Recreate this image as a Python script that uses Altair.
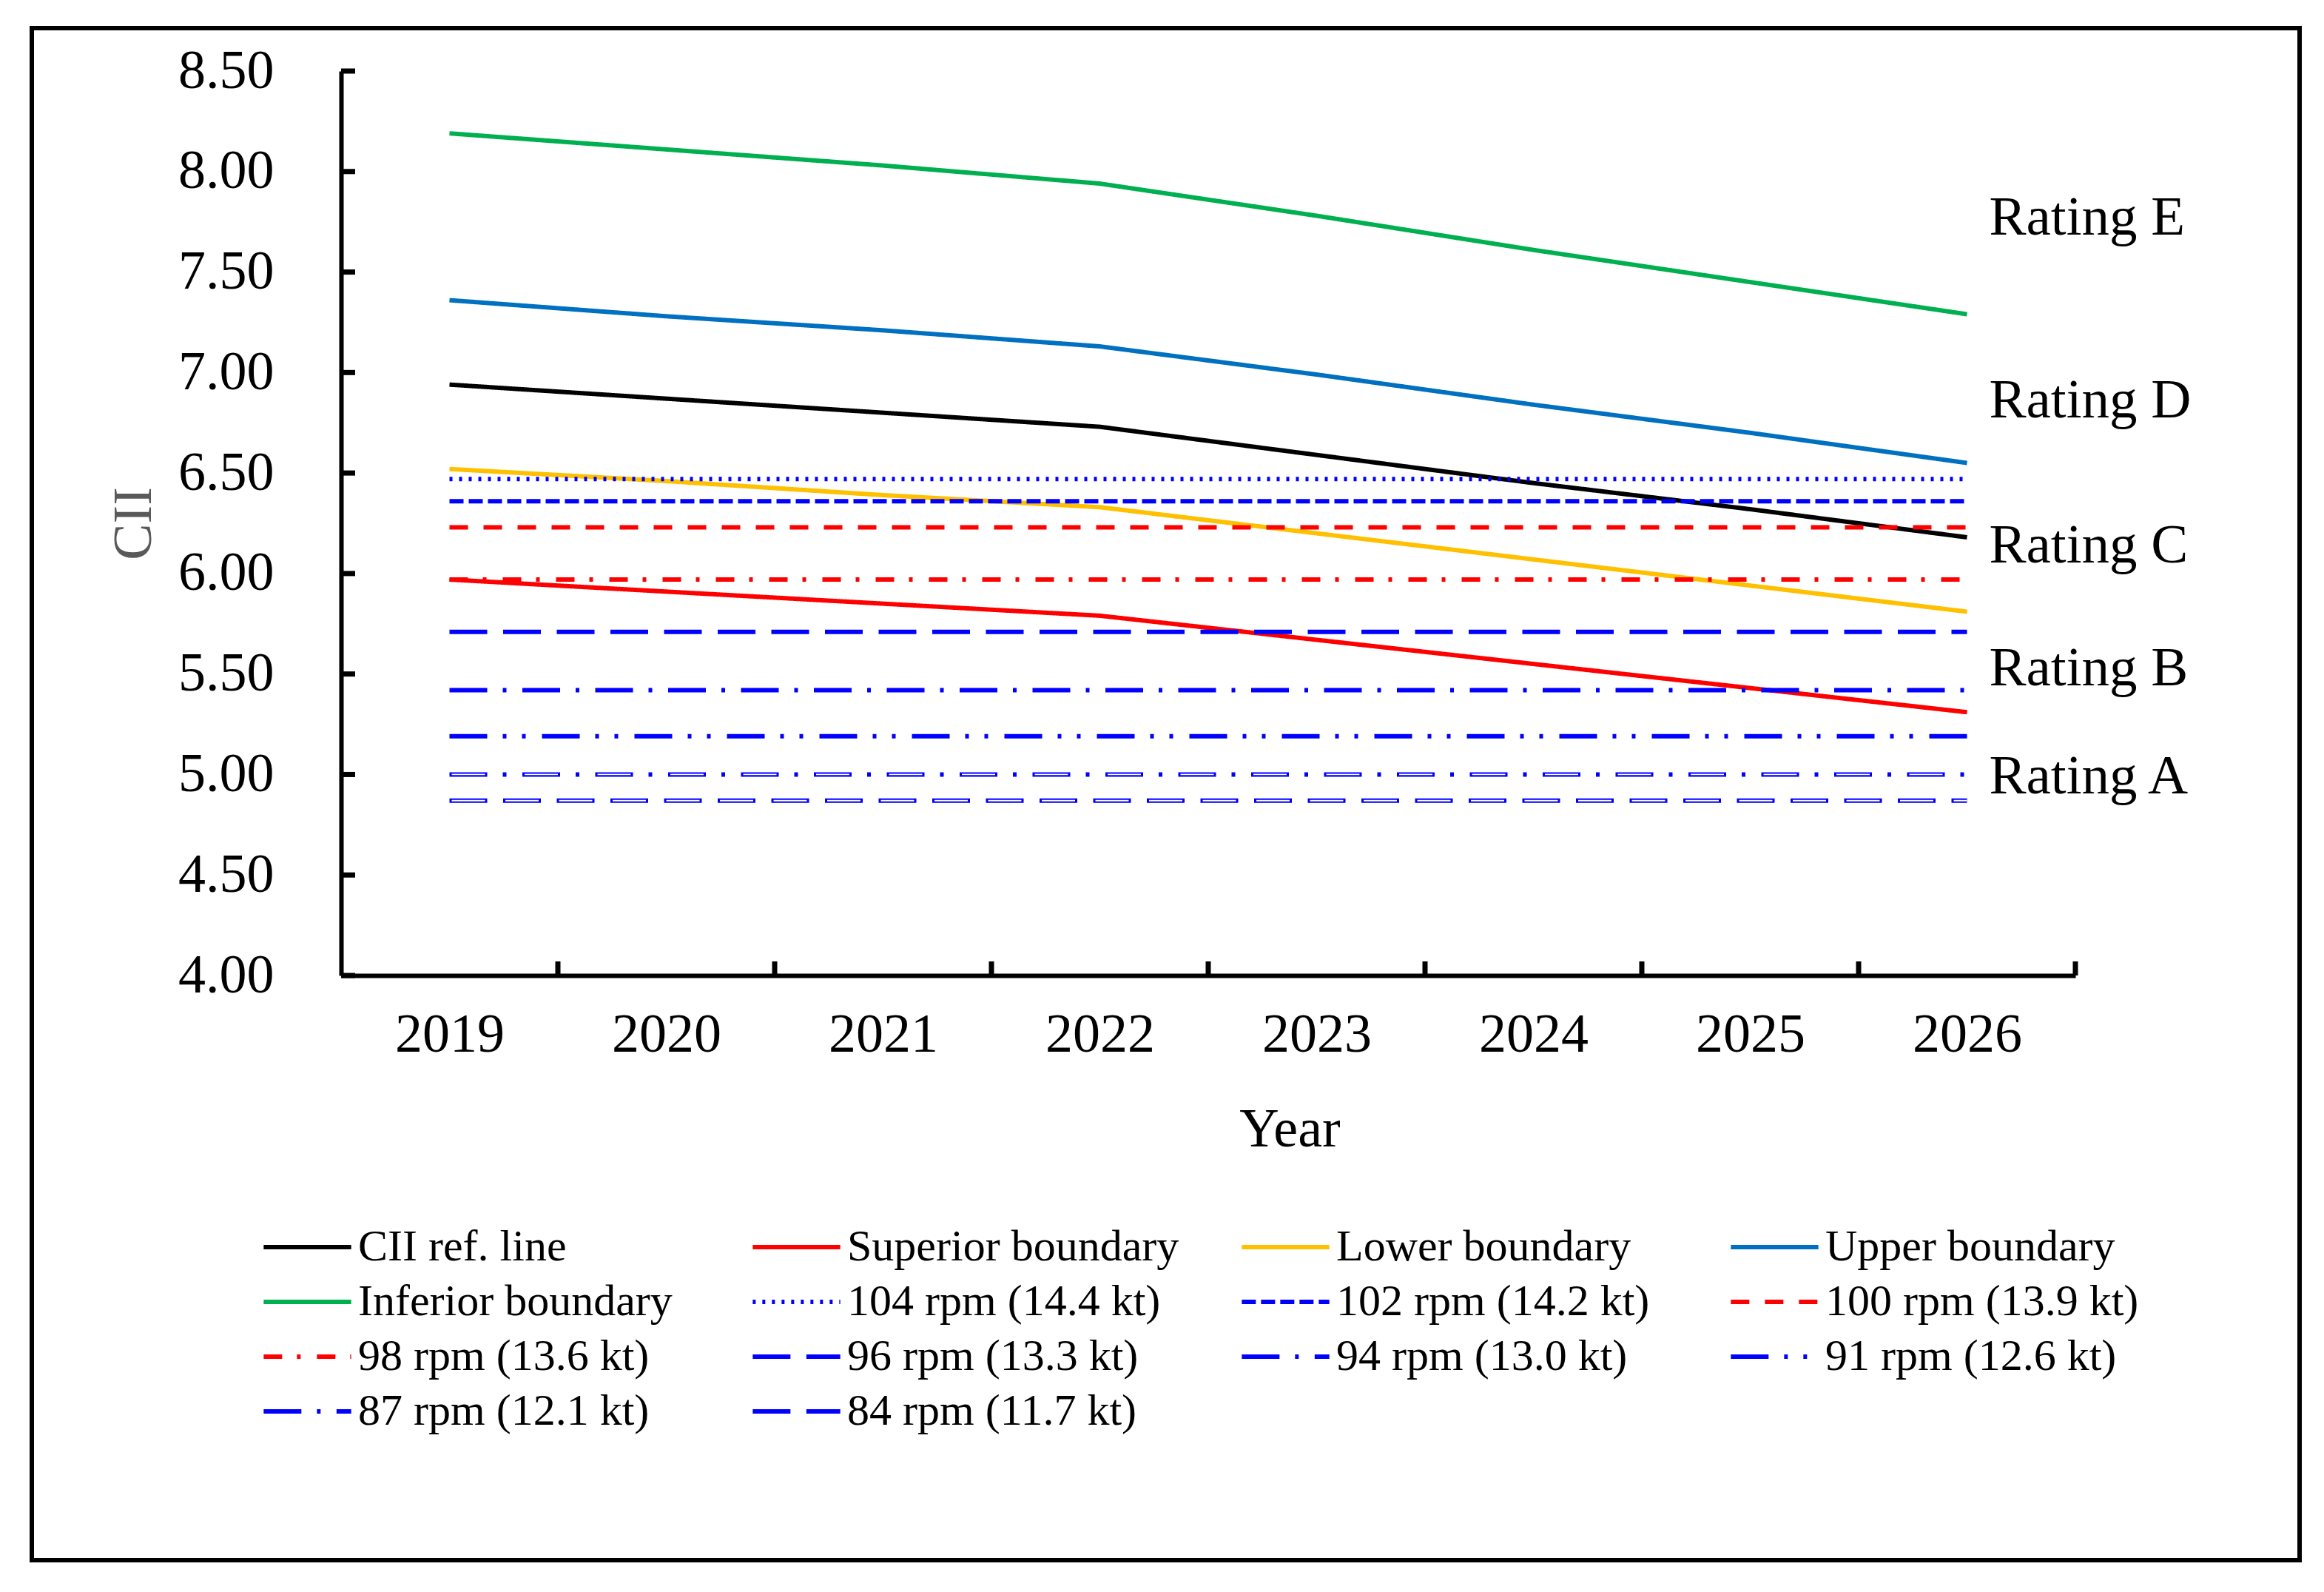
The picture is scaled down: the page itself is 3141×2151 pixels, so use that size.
import altair as alt
import pandas as pd

# ---------------- data ----------------
years = [2019, 2020, 2021, 2022, 2023, 2024, 2025, 2026]
cii_ref = [6.94, 6.87, 6.80, 6.73, 6.59, 6.45, 6.32, 6.18]
superior = [5.97, 5.91, 5.85, 5.79, 5.67, 5.55, 5.43, 5.31]
lower = [6.52, 6.46, 6.39, 6.33, 6.20, 6.07, 5.94, 5.81]
upper = [7.36, 7.28, 7.21, 7.13, 6.99, 6.84, 6.70, 6.55]
inferior = [8.19, 8.11, 8.03, 7.94, 7.78, 7.61, 7.45, 7.29]

boundary_names = ["CII ref. line", "Superior boundary", "Lower boundary",
                  "Upper boundary", "Inferior boundary"]
rpm_names = ["104 rpm (14.4 kt)", "102 rpm (14.2 kt)", "100 rpm (13.9 kt)",
             "98 rpm (13.6 kt)", "96 rpm (13.3 kt)", "94 rpm (13.0 kt)",
             "91 rpm (12.6 kt)", "87 rpm (12.1 kt)", "84 rpm (11.7 kt)"]
rpm_cii = [6.47, 6.36, 6.23, 5.97, 5.71, 5.42, 5.19, 5.00, 4.87]

rating_labels = ["Rating E", "Rating D", "Rating C", "Rating B", "Rating A"]
rating_cii = [7.77, 6.86, 6.14, 5.53, 4.99]
rating_year = 2026

y_ticks = [4.0, 4.5, 5.0, 5.5, 6.0, 6.5, 7.0, 7.5, 8.0, 8.5]
x_tick_edges = [2019.5, 2020.5, 2021.5, 2022.5, 2023.5, 2024.5, 2025.5, 2026.5]

# ---------------- styles ----------------
series_names = boundary_names + rpm_names
series_colors = ["#000000", "#FF0000", "#FFC000", "#0070C0", "#00B050",
                 "#0000FF", "#0000FF", "#FF0000", "#FF0000", "#0000FF",
                 "#0000FF", "#0000FF", "#0000FF", "#0000FF"]
series_dashes = [[1, 0], [1, 0], [1, 0], [1, 0], [1, 0],
                 [4, 9], [19, 7], [25, 21], [25, 20, 5, 22], [51, 21.5],
                 [51, 21, 5, 21.5], [51, 21, 5, 21, 5, 22], [51, 21, 5, 21.5],
                 [51, 21.5]]

FONT = "Liberation Serif"
W, H = 2344, 1222

rows = []
for name, vals in zip(boundary_names, [cii_ref, superior, lower, upper, inferior]):
    for yr, v in zip(years, vals):
        rows.append({"series": name, "year": yr, "value": v})
for name, v in zip(rpm_names, rpm_cii):
    for yr in years:
        rows.append({"series": name, "year": yr, "value": v})
df = pd.DataFrame(rows)

xscale = alt.Scale(domain=[2018.5, 2026.5], nice=False, zero=False)
yscale = alt.Scale(domain=[4.0, 8.5], nice=False, zero=False)

xaxis = alt.Axis(values=years, format="d", ticks=False, tickSize=0, grid=False,
                 labelFont=FONT, labelFontSize=74, labelColor="black",
                 labelPadding=44, labelFlush=False, labelOverlap=False,
                 domainColor="black", domainWidth=6,
                 title="Year", titleFont=FONT, titleFontSize=74,
                 titleFontWeight="normal", titleColor="black",
                 titleX=1282, titleY=230, titleAlign="center",
                 titleBaseline="alphabetic")
yaxis = alt.Axis(values=y_ticks, format=".2f", ticks=False, tickSize=0, grid=False,
                 labelFont=FONT, labelFontSize=74, labelColor="black",
                 labelPadding=91, labelOverlap=False,
                 domainColor="black", domainWidth=6,
                 title="CII", titleFont=FONT, titleFontSize=74,
                 titleFontWeight="normal", titleColor="#595959",
                 titleX=-280, titleY=H / 2, titleAngle=270,
                 titleAlign="center", titleBaseline="middle")

X = alt.X("year:Q", scale=xscale, axis=xaxis)
Y = alt.Y("value:Q", scale=yscale, axis=yaxis)

legend = alt.Legend(orient="none", legendX=-108, legendY=1559,
                    direction="horizontal", columns=4, title=None,
                    labelFont=FONT, labelFontSize=60, labelColor="black",
                    labelLimit=1000, labelOffset=6,
                    symbolType="stroke", symbolSize=14000, symbolStrokeWidth=6,
                    clipHeight=60, rowPadding=14, columnPadding=81,
                    gridAlign="all", padding=0)

lines = alt.Chart(df).mark_line(strokeWidth=6, strokeCap="butt").encode(
    x=X, y=Y,
    color=alt.Color("series:N", sort=series_names,
                    scale=alt.Scale(domain=series_names, range=series_colors),
                    legend=legend),
    strokeDash=alt.StrokeDash("series:N", sort=series_names,
                              scale=alt.Scale(domain=series_names, range=series_dashes),
                              legend=legend),
    order=alt.Order("year:Q"),
)

# hollow (double) dashes for the two slowest speeds
df87 = df[df["series"] == rpm_names[7]]
df84 = df[df["series"] == rpm_names[8]]
hollow87 = alt.Chart(df87).mark_line(color="white", strokeWidth=1.8, strokeCap="butt",
                                     strokeDash=[0, 3, 45, 50.5]).encode(x=X, y=Y)
hollow84 = alt.Chart(df84).mark_line(color="white", strokeWidth=1.8, strokeCap="butt",
                                     strokeDash=[0, 3, 45, 24.5]).encode(x=X, y=Y)

# inward ticks
xt = alt.Chart(pd.DataFrame({"year": x_tick_edges})).mark_rule(
    color="black", strokeWidth=7).encode(
    x=X, y=alt.value(H), y2=alt.value(H - 19))
yt = alt.Chart(pd.DataFrame({"value": y_ticks})).mark_rule(
    color="black", strokeWidth=7).encode(
    y=Y, x=alt.value(0), x2=alt.value(19))

ratings = alt.Chart(pd.DataFrame({"label": rating_labels, "value": rating_cii,
                                  "year": [rating_year] * len(rating_labels)})).mark_text(
    font=FONT, fontSize=75, align="left", baseline="middle", dx=30, color="black").encode(
    x=X, y=Y, text="label:N")

border = alt.Chart(pd.DataFrame({"a": [0]})).mark_rect(
    fillOpacity=0, stroke="black", strokeWidth=6).encode(
    x=alt.value(-418), x2=alt.value(2647), y=alt.value(-58), y2=alt.value(2012))

chart = alt.layer(border, lines, hollow87, hollow84, xt, yt, ratings).properties(
    width=W, height=H,
    padding={"left": 453, "top": 88, "right": 320, "bottom": 810},
    autosize=alt.AutoSizeParams(type="none"),
    background="white",
).configure_view(strokeWidth=0)

chart.save("out.html", embed_options={"renderer": "svg", "actions": False})
